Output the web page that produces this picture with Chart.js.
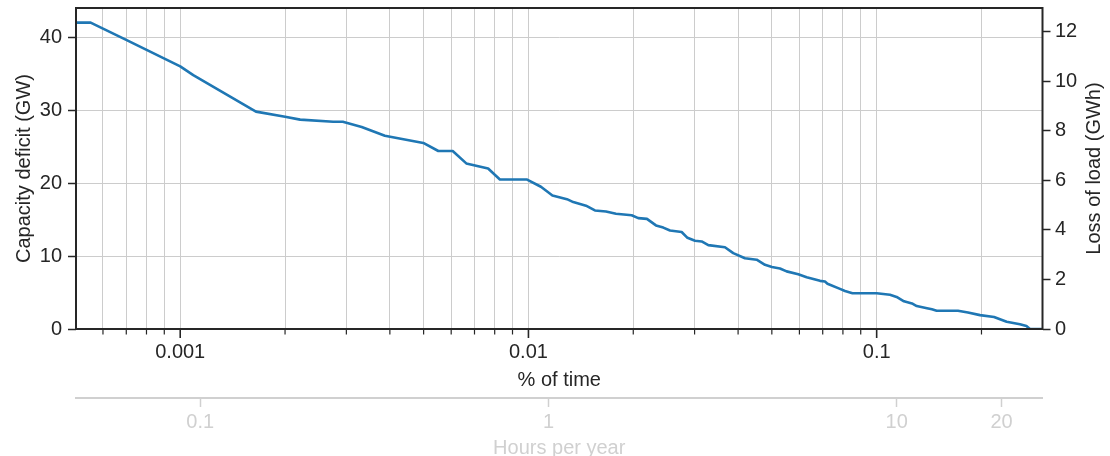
<!DOCTYPE html>
<html>
<head>
<meta charset="utf-8">
<script src="https://cdn.jsdelivr.net/npm/chart.js@4.4.1/dist/chart.umd.min.js"></script>
<style>
  html, body { margin: 0; padding: 0; background: #ffffff; }
  canvas { display: block; }
</style>
</head>
<body>
<canvas id="chart" width="1110" height="456"></canvas>
<script>
// Duration curve: share of the year (%) during which the capacity deficit is at least the given level
const pctOfTime = [
  0.000502, 0.000553, 0.000702, 0.001, 0.00109, 0.00165, 0.00200, 0.00221, 0.00275, 0.00293,
  0.00332, 0.00387, 0.00499, 0.00551, 0.00606, 0.00663, 0.00766, 0.00828, 0.00988, 0.01086,
  0.01172, 0.01290, 0.01345, 0.01463, 0.01552, 0.01670, 0.01784, 0.01979, 0.02067, 0.02189,
  0.02324, 0.02439, 0.02550, 0.02754, 0.02862, 0.03008, 0.03144, 0.03285, 0.03667, 0.03874,
  0.04185, 0.04523, 0.04778, 0.05004, 0.05276, 0.05514, 0.05955, 0.06295, 0.06875, 0.07105,
  0.07224, 0.07846, 0.08110, 0.08522, 0.1, 0.1092, 0.1141, 0.1198, 0.1263, 0.1303,
  0.1395, 0.1441, 0.1487, 0.1712, 0.1829, 0.1981, 0.2173, 0.2362, 0.2579, 0.2692,
  0.2756, 0.2994
];
const deficitGW = [
  42.0, 42.0, 39.6, 36.0, 34.8, 29.8, 29.1, 28.7, 28.4, 28.4,
  27.7, 26.5, 25.5, 24.4, 24.4, 22.7, 22.0, 20.5, 20.5, 19.5,
  18.3, 17.8, 17.4, 16.9, 16.25, 16.1, 15.8, 15.6, 15.2, 15.1,
  14.2, 13.9, 13.5, 13.3, 12.5, 12.1, 12.0, 11.5, 11.2, 10.4,
  9.7, 9.5, 8.8, 8.5, 8.3, 7.9, 7.5, 7.1, 6.6, 6.5,
  6.2, 5.5, 5.2, 4.9, 4.9, 4.7, 4.4, 3.8, 3.5, 3.15,
  2.85, 2.7, 2.5, 2.5, 2.25, 1.9, 1.65, 1.0, 0.66, 0.41,
  0.0, 0.0
];

// Tick positions
const pctMajorTicks = [0.001, 0.01, 0.1];
const pctMinorTicks = [
  0.0005, 0.0006, 0.0007, 0.0008, 0.0009,
  0.002, 0.003, 0.004, 0.005, 0.006, 0.007, 0.008, 0.009,
  0.02, 0.03, 0.04, 0.05, 0.06, 0.07, 0.08, 0.09,
  0.2, 0.3
];
const hourTicks = [0.1, 1, 10, 20];
const deficitTicks = [0, 10, 20, 30, 40];
const lossTicks = [0, 2, 4, 6, 8, 10, 12];

// Axis limits
const deficitMax = 44;
const lossMax = 12.96;
const HOURS_PER_PCT = 8760 / 100;

const INK = '#262626';
const GRID = '#cccccc';
const PALE = '#d0d0d0';
const LINE = '#1f77b4';
const FONT = '"Liberation Sans", Arial, Helvetica, sans-serif';

Chart.defaults.font.family = FONT;
Chart.defaults.font.size = 20;
Chart.defaults.color = INK;

const xMin = pctOfTime[0];
const xMax = pctOfTime[pctOfTime.length - 1];

const inRange = (s, v) => v >= s.min * 0.9999 && v <= s.max * 1.0001;

// Fixed axis box sizes; no extra room for half-labels at the ends
const fixWidth = w => s => { s.width = w; s.paddingTop = 0; s.paddingBottom = 0; };
const fixHeight = h => s => { s.height = h; s.paddingLeft = 0; s.paddingRight = 0; };

// Frame, decade/sub-decade tick marks and the right-hand title (reading upwards)
const framePlugin = {
  id: 'frameAndMarks',
  afterDraw(chart) {
    const { ctx, chartArea: a, scales } = chart;
    const x = scales.x;
    ctx.save();
    ctx.strokeStyle = INK;
    const mark = (v, len, w) => {
      if (!inRange(x, v)) return;
      const px = x.getPixelForValue(v);
      ctx.lineWidth = w;
      ctx.beginPath();
      ctx.moveTo(px, a.bottom);
      ctx.lineTo(px, a.bottom + len);
      ctx.stroke();
    };
    pctMinorTicks.forEach(v => mark(v, 5.5, 1.2));
    pctMajorTicks.forEach(v => mark(v, 9, 1.6));

    ctx.lineWidth = 2;
    ctx.strokeRect(a.left, a.top, a.right - a.left, a.bottom - a.top);

    const y2 = scales.y2;
    ctx.fillStyle = INK;
    ctx.font = '20px ' + FONT;
    ctx.textAlign = 'center';
    ctx.textBaseline = 'middle';
    ctx.translate(y2.right - 16, (a.top + a.bottom) / 2);
    ctx.rotate(-Math.PI / 2);
    ctx.fillText('Loss of load (GWh)', 0, 0);
    ctx.restore();
  }
};

new Chart(document.getElementById('chart'), {
  type: 'line',
  data: {
    datasets: [{
      data: pctOfTime.map((p, i) => ({ x: p, y: deficitGW[i] })),
      borderColor: LINE,
      borderWidth: 2.6,
      borderJoinStyle: 'round',
      pointRadius: 0,
      tension: 0,
      fill: false,
      xAxisID: 'x',
      yAxisID: 'y'
    }]
  },
  options: {
    responsive: false,
    animation: false,
    events: [],
    layout: { padding: { top: 8, left: 0, right: 0, bottom: 0 } },
    plugins: { legend: { display: false }, tooltip: { enabled: false } },
    scales: {
      x: {
        type: 'logarithmic',
        position: 'bottom',
        weight: 0,
        min: xMin,
        max: xMax,
        afterBuildTicks: s => {
          s.ticks = [...pctMinorTicks, ...pctMajorTicks]
            .sort((a, b) => a - b)
            .filter(v => inRange(s, v))
            .map(v => ({ value: v }));
        },
        afterFit: fixHeight(69),
        grid: { color: GRID, lineWidth: 1, drawTicks: false },
        border: { display: false },
        ticks: {
          autoSkip: false,
          maxRotation: 0,
          padding: 11.5,
          color: INK,
          callback: v => (pctMajorTicks.includes(v) ? String(v) : '')
        },
        title: { display: true, text: '% of time', color: INK, padding: { top: 0, bottom: 6 } }
      },
      xh: {
        type: 'logarithmic',
        position: 'bottom',
        weight: 1,
        min: xMin * HOURS_PER_PCT,
        max: xMax * HOURS_PER_PCT,
        afterBuildTicks: s => {
          s.ticks = hourTicks.filter(v => inRange(s, v)).map(v => ({ value: v }));
        },
        afterFit: fixHeight(58),
        grid: { drawOnChartArea: false, drawTicks: true, tickLength: 9, tickColor: PALE, tickWidth: 1.5 },
        border: { display: true, color: PALE, width: 2 },
        ticks: { autoSkip: false, maxRotation: 0, padding: 3, color: PALE, callback: v => String(v) },
        title: { display: true, text: 'Hours per year', color: PALE, padding: { top: 0, bottom: -4.5 } }
      },
      y: {
        type: 'linear',
        position: 'left',
        min: 0,
        max: deficitMax,
        afterBuildTicks: s => { s.ticks = deficitTicks.map(v => ({ value: v })); },
        afterFit: fixWidth(76),
        grid: { color: GRID, lineWidth: 1, tickColor: INK, tickLength: 8, tickWidth: 1.5 },
        border: { display: false },
        ticks: { padding: 6, color: INK },
        title: { display: true, text: 'Capacity deficit (GW)', color: INK, padding: { top: 12, bottom: 0 } }
      },
      y2: {
        type: 'linear',
        position: 'right',
        min: 0,
        max: lossMax,
        afterBuildTicks: s => { s.ticks = lossTicks.map(v => ({ value: v })); },
        afterFit: fixWidth(67.5),
        grid: { drawOnChartArea: false, tickColor: INK, tickLength: 8, tickWidth: 1.5 },
        border: { display: false },
        ticks: { padding: 4.5, color: INK },
        title: { display: false }
      }
    }
  },
  plugins: [framePlugin]
});
</script>
</body>
</html>
